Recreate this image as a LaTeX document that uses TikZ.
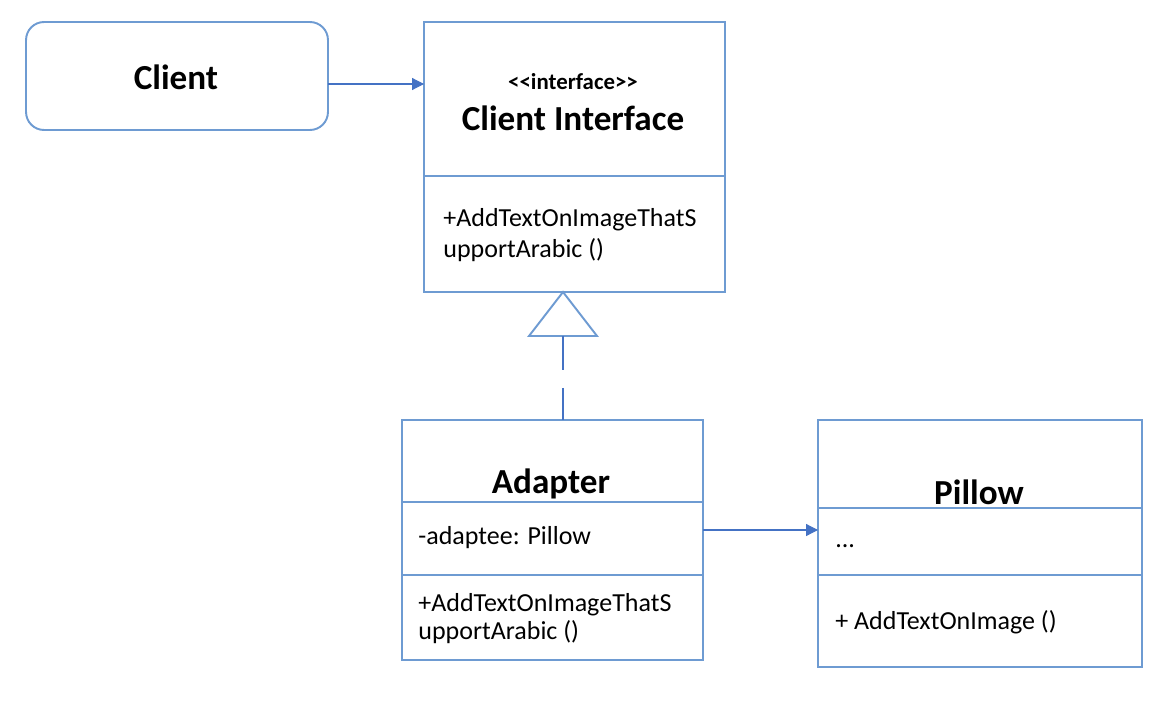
\documentclass[tikz,border=0pt]{standalone}
\usepackage{fontspec}
\setmainfont{Carlito}
\usetikzlibrary{arrows.meta,shapes.geometric}
\definecolor{boxblue}{RGB}{110,155,210}
\definecolor{lineblue}{RGB}{68,114,196}

\begin{document}
\begin{tikzpicture}[x=0.02cm,y=-0.02cm]
                        \tikzset{Box/.style={%
                                shape=rectangle,%
                                draw=boxblue,%
                                line width=1.1pt,%
                                inner sep=0pt,%
                                outer sep=0pt,%
                            },
                            Divider/.style={draw=boxblue,line width=1.1pt},%
                            Link/.style={draw=lineblue,line width=0.6pt,-{Triangle[length=0.24cm,width=0.24cm]}},%
                            Realize/.style={draw=lineblue,line width=0.6pt,dash pattern=on 0.68cm off 0.36cm},%
                            Title/.style={font=\fontsize{20}{24}\selectfont\bfseries},%
                            Member/.style={font=\fontsize{14.8}{17}\selectfont,align=left,anchor=west,inner sep=0pt},%
                        }
                        \useasboundingbox (0,0) rectangle (1168,726);

                            \node[Box, rounded corners=0.36cm, minimum width=6.04cm, minimum height=2.16cm] (client) at (177,76) {};
                            \node[Box, minimum width=6.02cm, minimum height=5.4cm] (iface) at (574.5,157) {};
                            \node[Box, minimum width=6.02cm, minimum height=4.8cm] (adapter) at (552.5,540) {};
                            \node[Box, minimum width=6.48cm, minimum height=4.94cm] (pillow) at (980,543.5) {};
                            \node[Box, isosceles triangle, shape border rotate=90, isosceles triangle apex angle=75.4,
                                  isosceles triangle stretches=true, minimum height=0.88cm, minimum width=1.36cm,
                                  anchor=apex] (tri) at (563,292) {};

                            % compartments
                            \path[Divider] (iface.west |- 0,176) -- (iface.east |- 0,176);
                            \path[Divider] (adapter.west |- 0,502) -- (adapter.east |- 0,502);
                            \path[Divider] (adapter.west |- 0,575) -- (adapter.east |- 0,575);
                            \path[Divider] (pillow.west |- 0,508) -- (pillow.east |- 0,508);
                            \path[Divider] (pillow.west |- 0,575) -- (pillow.east |- 0,575);

                            % texts
                            \node[Title] (clientname) at (176,77) {Client};
                            \node[font=\fontsize{13}{15}\selectfont\bfseries] (stereo) at (573,82) {<\kern0pt<interface>\kern0pt>};
                            \node[Title] (ifacename) at (573,118) {Client Interface};
                            \node[Member, font=\fontsize{14.8}{17.2}\selectfont] (ifaceops) at (443,235) {+AddTextOnImageThatS\\upportArabic ()};
                            \node[Title] (adaptername) at (551,484) {Adapter};
                            \node[Member] (adapterattr) at (418,538) {-adaptee: Pillow};
                            \node[Member, font=\fontsize{14.8}{16}\selectfont] (adapterops) at (418,619) {+AddTextOnImageThatS\\upportArabic ()};
                            \node[Title] (pillowname) at (979,492) {Pillow};
                            \node[Member] (pillowattr) at (835,546) {...};
                            \node[Member] (pillowops) at (835,622) {+ AddTextOnImage ()};

                            % connectors
                            \path[Link] (client.east |- 0,84) -- (iface.west |- 0,84);
                            \path[Link] (adapter.east |- 0,530) -- (pillow.west |- 0,530);
                            \path[Realize] (tri.south) -- (tri.south |- adapter.north);
\end{tikzpicture}
\end{document}
